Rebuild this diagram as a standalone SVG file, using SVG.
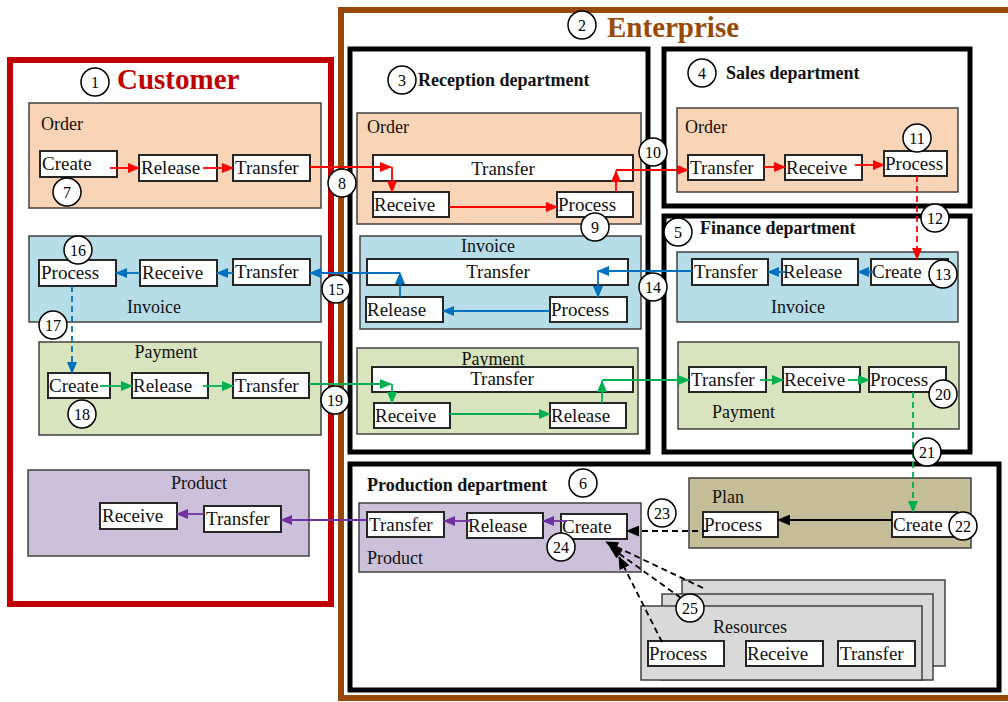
<svg xmlns="http://www.w3.org/2000/svg" width="1008" height="702" viewBox="0 0 1008 702">
<defs>
<marker id="ar" markerWidth="12" markerHeight="10" refX="11" refY="5" orient="auto" markerUnits="userSpaceOnUse"><path d="M0,0 L12,5 L0,10 Z" fill="#FF0000"/></marker>
<marker id="ab" markerWidth="12" markerHeight="10" refX="11" refY="5" orient="auto" markerUnits="userSpaceOnUse"><path d="M0,0 L12,5 L0,10 Z" fill="#0070C0"/></marker>
<marker id="ag" markerWidth="12" markerHeight="10" refX="11" refY="5" orient="auto" markerUnits="userSpaceOnUse"><path d="M0,0 L12,5 L0,10 Z" fill="#00B050"/></marker>
<marker id="ap" markerWidth="12" markerHeight="10" refX="11" refY="5" orient="auto" markerUnits="userSpaceOnUse"><path d="M0,0 L12,5 L0,10 Z" fill="#7030A0"/></marker>
<marker id="ak" markerWidth="13" markerHeight="11" refX="12" refY="5.5" orient="auto" markerUnits="userSpaceOnUse"><path d="M0,0 L13,5.5 L0,11 Z" fill="#000"/></marker>
</defs>
<style>
text{font-family:"Liberation Serif","Times New Roman",serif;fill:#111}
.lbl{font-size:19px}
.ttl{font-size:18px}
.c{text-anchor:middle}
.dt{font-size:18px;font-weight:bold}
.box{fill:#fff;stroke:#262626;stroke-width:2}
.g{stroke:#404040;stroke-width:1.5}
.order{fill:#FAD4B6}
.inv{fill:#B7DDE8}
.pay{fill:#D7E4BD}
.prod{fill:#CCC0DA}
.plan{fill:#C4BD97}
.res{fill:#D9D9D9}
.dept{fill:none;stroke:#000;stroke-width:5}
.cn line,.cn path{fill:none;stroke-width:1.8}
.r{stroke:#FF0000}
.b{stroke:#0070C0}
.gr{stroke:#00B050}
.p{stroke:#7030A0}
.k{stroke:#000}
.d{stroke-dasharray:6,4}
.num circle{fill:#fff;stroke:#000;stroke-width:1.5}
.num text{font-size:16px;text-anchor:middle;fill:#000}
</style>
<rect width="1008" height="702" fill="#fff"/>

<g id="customer">
<rect x="10" y="60" width="321" height="544" fill="none" stroke="#C00000" stroke-width="6"/>
<text x="117" y="89" style="font-size:29px;font-weight:bold;fill:#C00000">Customer</text>
</g>
<g id="enterprise">
<rect x="341" y="10" width="675" height="688" fill="none" stroke="#984807" stroke-width="6"/>
<text x="607" y="37" style="font-size:29px;font-weight:bold;fill:#984807">Enterprise</text>
</g>

<g id="reception-department">
<rect class="dept" x="350" y="49" width="298" height="403"/>
<text class="dt" x="418" y="86">Reception department</text>
</g>
<g id="sales-department">
<rect class="dept" x="664" y="49" width="306" height="157"/>
<text class="dt" x="726" y="79">Sales department</text>
</g>
<g id="finance-department">
<rect class="dept" x="664" y="216" width="306" height="236"/>
<text class="dt" x="700" y="234">Finance department</text>
</g>
<g id="production-department">
<rect class="dept" x="350" y="464" width="649" height="226"/>
<text class="dt" x="367" y="491">Production department</text>
</g>

<!-- Customer groups -->
<g id="cust-order">
<rect class="g order" x="29" y="103" width="292" height="105"/>
<text class="ttl" x="41" y="130">Order</text>
<rect class="box" x="40" y="151" width="77" height="26"/><text class="lbl" x="42" y="170">Create</text>
<rect class="box" x="139" y="155" width="78" height="26"/><text class="lbl" x="141" y="174">Release</text>
<rect class="box" x="233" y="155" width="77" height="26"/><text class="lbl" x="235" y="174">Transfer</text>
</g>
<g id="cust-invoice">
<rect class="g inv" x="29" y="236" width="292" height="86"/>
<text class="ttl c" x="154" y="313">Invoice</text>
<rect class="box" x="39" y="260" width="77" height="26"/><text class="lbl" x="41" y="279">Process</text>
<rect class="box" x="140" y="260" width="77" height="26"/><text class="lbl" x="142" y="279">Receive</text>
<rect class="box" x="233" y="259" width="77" height="26"/><text class="lbl" x="235" y="278">Transfer</text>
</g>
<g id="cust-payment">
<rect class="g pay" x="39" y="342" width="282" height="93"/>
<text class="ttl c" x="166" y="358">Payment</text>
<rect class="box" x="48" y="373" width="62" height="25"/><text class="lbl" x="49" y="392">Create</text>
<rect class="box" x="132" y="373" width="76" height="25"/><text class="lbl" x="133" y="392">Release</text>
<rect class="box" x="233" y="373" width="76" height="25"/><text class="lbl" x="235" y="392">Transfer</text>
</g>
<g id="cust-product">
<rect class="g prod" x="28" y="470" width="281" height="86"/>
<text class="ttl c" x="199" y="489">Product</text>
<rect class="box" x="100" y="503" width="77" height="26"/><text class="lbl" x="102" y="522">Receive</text>
<rect class="box" x="204" y="506" width="77" height="26"/><text class="lbl" x="206" y="525">Transfer</text>
</g>

<!-- Reception groups -->
<g id="rec-order">
<rect class="g order" x="357" y="113" width="284" height="111"/>
<text class="ttl" x="367" y="133">Order</text>
<rect class="box" x="373" y="155" width="260" height="26"/><text class="lbl c" x="503" y="175">Transfer</text>
<rect class="box" x="373" y="192" width="76" height="25"/><text class="lbl" x="374" y="211">Receive</text>
<rect class="box" x="557" y="192" width="76" height="25"/><text class="lbl" x="558" y="211">Process</text>
</g>
<g id="rec-invoice">
<rect class="g inv" x="360" y="236" width="281" height="93"/>
<text class="ttl c" x="488" y="252">Invoice</text>
<rect class="box" x="367" y="259" width="261" height="26"/><text class="lbl c" x="498" y="278">Transfer</text>
<rect class="box" x="366" y="297" width="77" height="25"/><text class="lbl" x="367" y="316">Release</text>
<rect class="box" x="550" y="297" width="77" height="25"/><text class="lbl" x="551" y="316">Process</text>
</g>
<g id="rec-payment">
<rect class="g pay" x="357" y="348" width="281" height="86"/>
<text class="ttl c" x="493" y="365">Payment</text>
<rect class="box" x="372" y="367" width="261" height="25"/><text class="lbl c" x="502" y="385">Transfer</text>
<rect class="box" x="374" y="403" width="76" height="25"/><text class="lbl" x="375" y="422">Receive</text>
<rect class="box" x="550" y="403" width="76" height="25"/><text class="lbl" x="551" y="422">Release</text>
</g>

<!-- Sales -->
<g id="sales-order">
<rect class="g order" x="677" y="108" width="281" height="84"/>
<text class="ttl" x="685" y="133">Order</text>
<rect class="box" x="688" y="155" width="76" height="25"/><text class="lbl" x="690" y="174">Transfer</text>
<rect class="box" x="785" y="155" width="77" height="25"/><text class="lbl" x="786" y="174">Receive</text>
<rect class="box" x="884" y="151" width="63" height="25"/><text class="lbl" x="885" y="170">Process</text>
</g>

<!-- Finance -->
<g id="fin-invoice">
<rect class="g inv" x="677" y="252" width="281" height="70"/>
<text class="ttl c" x="798" y="313">Invoice</text>
<rect class="box" x="692" y="259" width="76" height="26"/><text class="lbl" x="694" y="278">Transfer</text>
<rect class="box" x="782" y="259" width="76" height="26"/><text class="lbl" x="783" y="278">Release</text>
<rect class="box" x="871" y="259" width="77" height="26"/><text class="lbl" x="872" y="278">Create</text>
</g>
<g id="fin-payment">
<rect class="g pay" x="678" y="342" width="281" height="87"/>
<text class="ttl" x="712" y="418">Payment</text>
<rect class="box" x="689" y="367" width="77" height="25"/><text class="lbl" x="691" y="386">Transfer</text>
<rect class="box" x="783" y="367" width="77" height="25"/><text class="lbl" x="784" y="386">Receive</text>
<rect class="box" x="869" y="367" width="77" height="25"/><text class="lbl" x="870" y="386">Process</text>
</g>

<!-- Production -->
<g id="prod-product">
<rect class="g prod" x="359" y="503" width="282" height="69"/>
<text class="ttl" x="367" y="564">Product</text>
<rect class="box" x="367" y="512" width="77" height="25"/><text class="lbl" x="369" y="531">Transfer</text>
<rect class="box" x="467" y="513" width="76" height="25"/><text class="lbl" x="468" y="532">Release</text>
<rect class="box" x="561" y="514" width="66" height="25"/><text class="lbl" x="562" y="533">Create</text>
</g>
<g id="prod-plan">
<rect class="g plan" x="689" y="478" width="282" height="70"/>
<text class="ttl" x="712" y="503">Plan</text>
<rect class="box" x="703" y="512" width="75" height="25"/><text class="lbl" x="704" y="531">Process</text>
<rect class="box" x="892" y="512" width="65" height="25"/><text class="lbl" x="893" y="531">Create</text>
</g>
<g id="prod-resources">
<rect class="g res" x="682" y="580" width="263" height="86"/>
<rect class="g res" x="662" y="594" width="271" height="86"/>
<rect class="g res" x="641" y="606" width="281" height="74"/>
<text class="ttl c" x="750" y="633">Resources</text>
<rect class="box" x="648" y="641" width="76" height="25"/><text class="lbl" x="649" y="660">Process</text>
<rect class="box" x="746" y="641" width="77" height="25"/><text class="lbl" x="747" y="660">Receive</text>
<rect class="box" x="838" y="641" width="77" height="25"/><text class="lbl" x="840" y="660">Transfer</text>
</g>

<g id="connectors" class="cn">
<line class="r" x1="110" y1="168" x2="139" y2="168" marker-end="url(#ar)"/>
<line class="r" x1="203" y1="168" x2="233" y2="168" marker-end="url(#ar)"/>
<line class="r" x1="310" y1="167" x2="391" y2="167" marker-end="url(#ar)"/>
<line class="r" x1="392" y1="167" x2="392" y2="192" marker-end="url(#ar)"/>
<line class="r" x1="449" y1="207" x2="557" y2="207" marker-end="url(#ar)"/>
<line class="r" x1="616" y1="192" x2="616" y2="171" marker-end="url(#ar)"/>
<line class="r" x1="616" y1="170" x2="688" y2="170" marker-end="url(#ar)"/>
<line class="r" x1="764" y1="167" x2="785" y2="167" marker-end="url(#ar)"/>
<line class="r" x1="855" y1="165" x2="884" y2="165" marker-end="url(#ar)"/>
<line class="r d" x1="917" y1="176" x2="917" y2="259" marker-end="url(#ar)"/>

<line class="b" x1="874" y1="272" x2="858" y2="272" marker-end="url(#ab)"/>
<line class="b" x1="785" y1="272" x2="768" y2="272" marker-end="url(#ab)"/>
<line class="b" x1="692" y1="271" x2="598" y2="271" marker-end="url(#ab)"/>
<line class="b" x1="598" y1="271" x2="598" y2="297" marker-end="url(#ab)"/>
<line class="b" x1="550" y1="311" x2="443" y2="311" marker-end="url(#ab)"/>
<line class="b" x1="400" y1="297" x2="400" y2="273" marker-end="url(#ab)"/>
<line class="b" x1="400" y1="273" x2="310" y2="273" marker-end="url(#ab)"/>
<line class="b" x1="233" y1="273" x2="217" y2="273" marker-end="url(#ab)"/>
<line class="b" x1="140" y1="273" x2="116" y2="273" marker-end="url(#ab)"/>
<line class="b d" x1="72" y1="286" x2="72" y2="373" marker-end="url(#ab)"/>

<line class="gr" x1="100" y1="386" x2="132" y2="386" marker-end="url(#ag)"/>
<line class="gr" x1="203" y1="386" x2="233" y2="386" marker-end="url(#ag)"/>
<line class="gr" x1="309" y1="384" x2="391" y2="384" marker-end="url(#ag)"/>
<line class="gr" x1="392" y1="384" x2="392" y2="403" marker-end="url(#ag)"/>
<line class="gr" x1="450" y1="414" x2="550" y2="414" marker-end="url(#ag)"/>
<line class="gr" x1="602" y1="403" x2="602" y2="381" marker-end="url(#ag)"/>
<line class="gr" x1="602" y1="380" x2="689" y2="380" marker-end="url(#ag)"/>
<line class="gr" x1="760" y1="380" x2="783" y2="380" marker-end="url(#ag)"/>
<line class="gr" x1="848" y1="380" x2="869" y2="380" marker-end="url(#ag)"/>
<line class="gr d" x1="913" y1="392" x2="913" y2="512" marker-end="url(#ag)"/>

<line class="p" x1="567" y1="521" x2="543" y2="521" marker-end="url(#ap)"/>
<line class="p" x1="472" y1="521" x2="444" y2="521" marker-end="url(#ap)"/>
<line class="p" x1="367" y1="520" x2="281" y2="520" marker-end="url(#ap)"/>
<line class="p" x1="204" y1="514" x2="177" y2="514" marker-end="url(#ap)"/>

<line class="k" x1="892" y1="520" x2="778" y2="520" marker-end="url(#ak)"/>
<line class="k d" x1="708" y1="531" x2="627" y2="531" marker-end="url(#ak)"/>
<line class="k d" x1="703" y1="588" x2="606" y2="542" marker-end="url(#ak)"/>
<line class="k d" x1="681" y1="598" x2="610" y2="547" marker-end="url(#ak)"/>
<line class="k d" x1="662" y1="642" x2="619" y2="557" marker-end="url(#ak)"/>
</g>

<g id="numbers" class="num">
<g><circle cx="95" cy="82" r="14"/><text x="95" y="88">1</text></g>
<g><circle cx="582" cy="25" r="14"/><text x="582" y="31">2</text></g>
<g><circle cx="402" cy="80" r="14"/><text x="402" y="86">3</text></g>
<g><circle cx="702" cy="73" r="14"/><text x="702" y="79">4</text></g>
<g><circle cx="678" cy="232" r="14"/><text x="678" y="238">5</text></g>
<g><circle cx="583" cy="483" r="14"/><text x="583" y="489">6</text></g>
<g><circle cx="67" cy="192" r="14"/><text x="67" y="198">7</text></g>
<g><circle cx="342" cy="183" r="14"/><text x="342" y="189">8</text></g>
<g><circle cx="595" cy="227" r="14"/><text x="595" y="233">9</text></g>
<g><circle cx="653" cy="152" r="14"/><text x="653" y="158">10</text></g>
<g><circle cx="917" cy="138" r="14"/><text x="917" y="144">11</text></g>
<g><circle cx="935" cy="218" r="14"/><text x="935" y="224">12</text></g>
<g><circle cx="943" cy="274" r="14"/><text x="943" y="280">13</text></g>
<g><circle cx="653" cy="287" r="14"/><text x="653" y="293">14</text></g>
<g><circle cx="336" cy="289" r="14"/><text x="336" y="295">15</text></g>
<g><circle cx="78" cy="250" r="14"/><text x="78" y="256">16</text></g>
<g><circle cx="53" cy="325" r="14"/><text x="53" y="331">17</text></g>
<g><circle cx="82" cy="414" r="14"/><text x="82" y="420">18</text></g>
<g><circle cx="335" cy="400" r="14"/><text x="335" y="406">19</text></g>
<g><circle cx="943" cy="394" r="14"/><text x="943" y="400">20</text></g>
<g><circle cx="927" cy="452" r="14"/><text x="927" y="458">21</text></g>
<g><circle cx="963" cy="526" r="14"/><text x="963" y="532">22</text></g>
<g><circle cx="662" cy="513" r="14"/><text x="662" y="519">23</text></g>
<g><circle cx="561" cy="547" r="14"/><text x="561" y="553">24</text></g>
<g><circle cx="690" cy="608" r="14"/><text x="690" y="614">25</text></g>
</g>
</svg>
